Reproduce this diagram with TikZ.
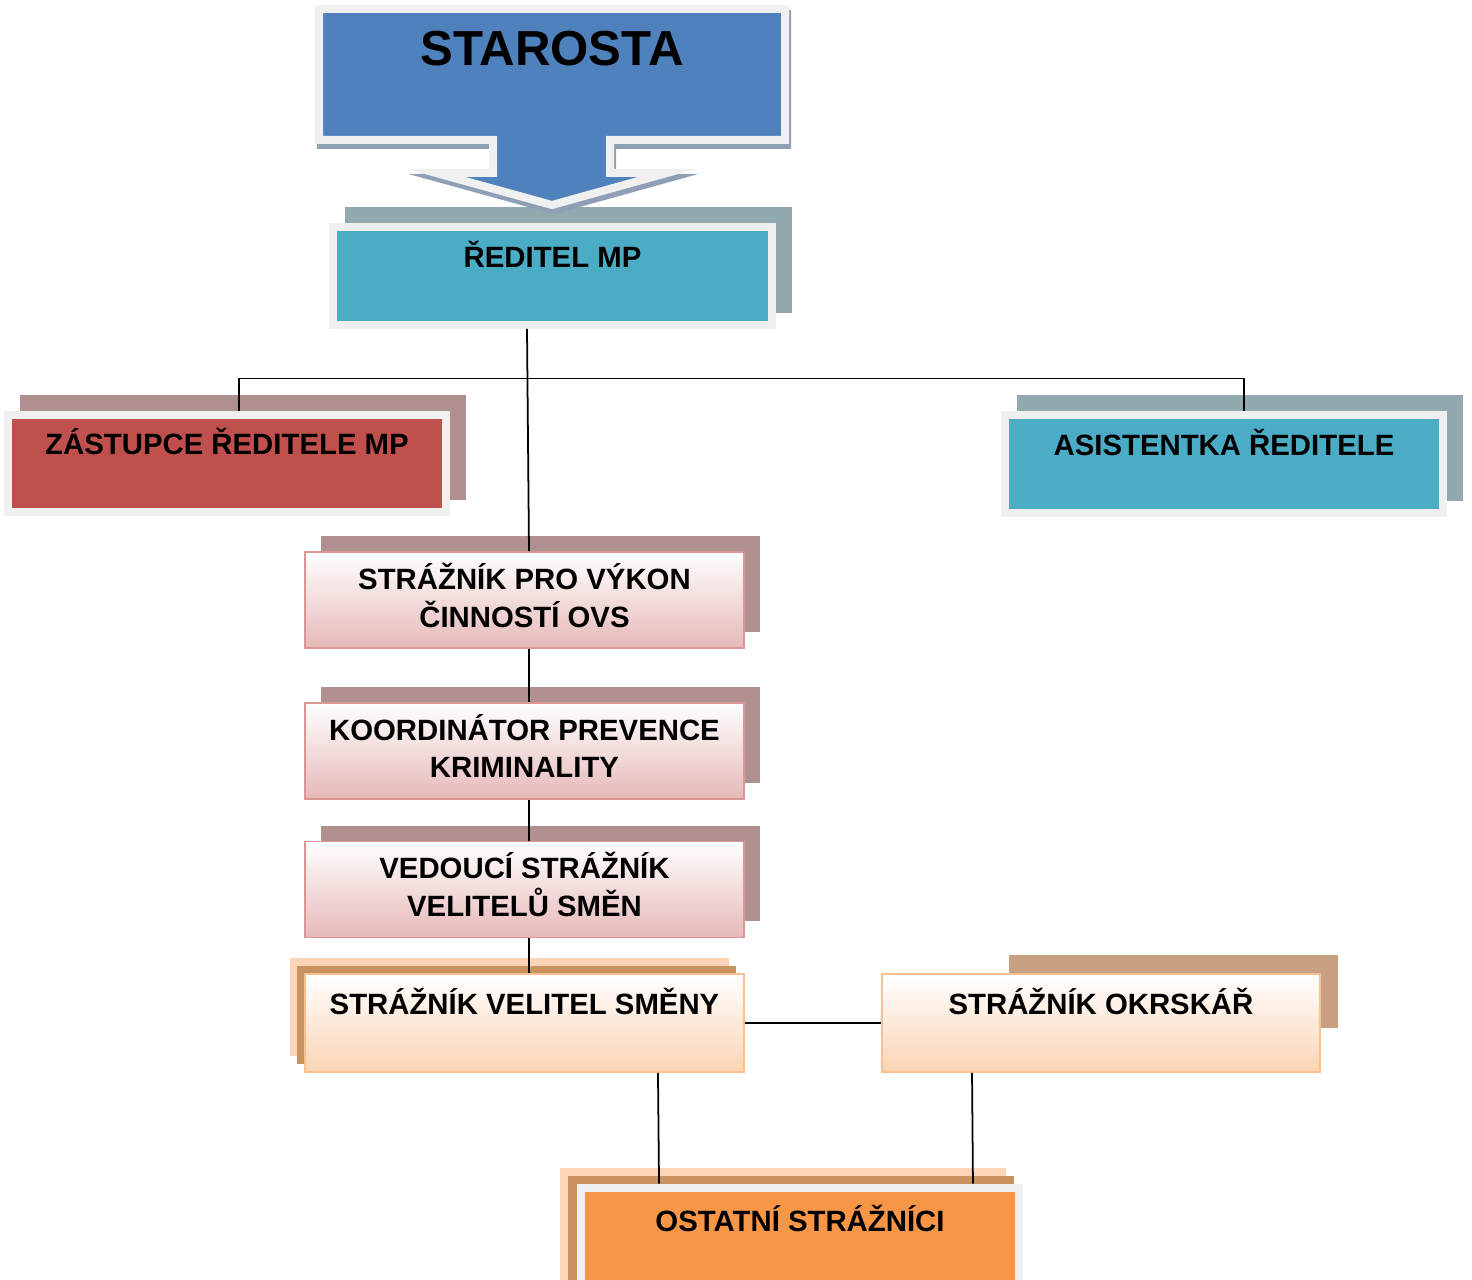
\documentclass[tikz,border=0pt]{standalone}
\usepackage{fontspec}
\setmainfont{Liberation Sans}
\usetikzlibrary{shadows}

\definecolor{glow}{HTML}{F0F0F0}
\definecolor{starblue}{HTML}{4F81BD}
\definecolor{starshadow}{HTML}{8F9FB5}
\definecolor{tealbox}{HTML}{4BACC6}
\definecolor{tealshadow}{HTML}{90AAB0}
\definecolor{redbox}{HTML}{C0504D}
\definecolor{redshadow}{HTML}{B0908F}
\definecolor{pinkline}{HTML}{D99694}
\definecolor{pinkbot}{HTML}{E6B9B8}
\definecolor{pinkshadow}{HTML}{B09190}
\definecolor{peachline}{HTML}{FAC090}
\definecolor{peachbot}{HTML}{FBD4B4}
\definecolor{peachshadow}{HTML}{FBD5B5}
\definecolor{brownshadow}{HTML}{C9935F}
\definecolor{tanshadow}{HTML}{C9A082}
\definecolor{orangebox}{HTML}{F79646}

\begin{document}
\begin{tikzpicture}[x=0.02cm,y=-0.02cm,
        box/.style={rectangle,inner sep=0pt,minimum width=8.78cm,minimum height=1.96cm,
            align=center,font=\bfseries\fontsize{16.7}{21.5}\selectfont},
        oneline/.style={text height=0.42cm,text depth=0.76cm},
        glowbox/.style={box,oneline,draw=glow,line width=0.16cm,fill=#1},
        pinkbox/.style={box,minimum height=1.92cm,text depth=0.2cm,draw=pinkline,line width=1.1pt,
            top color=white,bottom color=pinkbot,
            copy shadow={shadow xshift=0.32cm,shadow yshift=0.32cm,fill=pinkshadow,draw=none}},
        peachbox/.style={box,oneline,draw=peachline,line width=1.1pt,top color=white,bottom color=peachbot},
        link/.style={line width=1pt}]
        \useasboundingbox (0,0) rectangle (1472,1280);
        \node[glowbox=tealbox,copy shadow={shadow xshift=0.32cm,shadow yshift=0.32cm,fill=tealshadow,draw=tealshadow}]
            (reditel) at (552.5,276) {ŘEDITEL MP};
        \fill[starshadow,draw=starshadow,line width=0.16cm,shift={(2,5)}] (319,9) -- (785,9) -- (785,140) -- (610,140)
            -- (610,173) -- (667,173) -- (552,205) -- (436,173) -- (493,173) -- (493,140) -- (319,140) -- cycle;
        \filldraw[fill=starblue,draw=glow,line width=0.16cm] (319,9) -- (785,9) -- (785,140) -- (610,140)
            -- (610,173) -- (667,173) -- (552,205) -- (436,173) -- (493,173) -- (493,140) -- (319,140) -- cycle;
        \node[anchor=base,font=\bfseries\fontsize{28}{33}\selectfont] (starosta) at (552,66) {STAROSTA};
        \node[glowbox=redbox,copy shadow={shadow xshift=0.32cm,shadow yshift=0.32cm,fill=redshadow,draw=redshadow}]
            (zastupce) at (227,463.5) {ZÁSTUPCE ŘEDITELE MP};
        \node[glowbox=tealbox,copy shadow={shadow xshift=0.32cm,shadow yshift=0.32cm,fill=tealshadow,draw=tealshadow}]
            (asistentka) at (1224,464) {ASISTENTKA ŘEDITELE};
        \node[pinkbox] (vykon) at (524.5,600) {STRÁŽNÍK PRO VÝKON\\ČINNOSTÍ OVS};
        \node[pinkbox] (koord) at (524.5,751) {KOORDINÁTOR PREVENCE\\KRIMINALITY};
        \node[pinkbox] (vedouci) at (524.5,889.5) {VEDOUCÍ STRÁŽNÍK\\VELITELŮ SMĚN};
        \node[peachbox,copy shadow={shadow xshift=-0.3cm,shadow yshift=0.32cm,fill=peachshadow,draw=none},
            copy shadow={shadow xshift=-0.16cm,shadow yshift=0.16cm,fill=brownshadow,draw=none}]
            (velitel) at (524.5,1023) {STRÁŽNÍK VELITEL SMĚNY};
        \fill[tanshadow] (1009,955) rectangle (1338,1028);
        \node[peachbox] (okrskar) at (1101,1023) {STRÁŽNÍK OKRSKÁŘ};
        \node[glowbox=orangebox,minimum height=2.1cm,
            copy shadow={shadow xshift=-0.34cm,shadow yshift=0.32cm,fill=peachshadow,draw=peachshadow},
            copy shadow={shadow xshift=-0.18cm,shadow yshift=0.16cm,fill=brownshadow,draw=brownshadow}]
            (ostatni) at (800,1240) {OSTATNÍ STRÁŽNÍCI};
        \draw[link] ([xshift=-0.51cm]reditel.south) -- ([xshift=0.09cm]vykon.north);
        \draw[link] ([xshift=0.24cm]zastupce.north) -- ++(0,-32) -| ([xshift=0.4cm]asistentka.north);
        \draw[link] ([xshift=0.09cm]vykon.south) -- ([xshift=0.09cm]koord.north);
        \draw[link] ([xshift=0.09cm]koord.south) -- ([xshift=0.09cm]vedouci.north);
        \draw[link] ([xshift=0.09cm]vedouci.south) -- ([xshift=0.09cm]velitel.north);
        \draw[link] (velitel.east) -- (okrskar.west);
        \draw[link] ([xshift=2.67cm]velitel.south) -- ([xshift=-2.82cm]ostatni.north);
        \draw[link] ([xshift=-2.58cm]okrskar.south) -- ([xshift=3.46cm]ostatni.north);
\end{tikzpicture}
\end{document}
